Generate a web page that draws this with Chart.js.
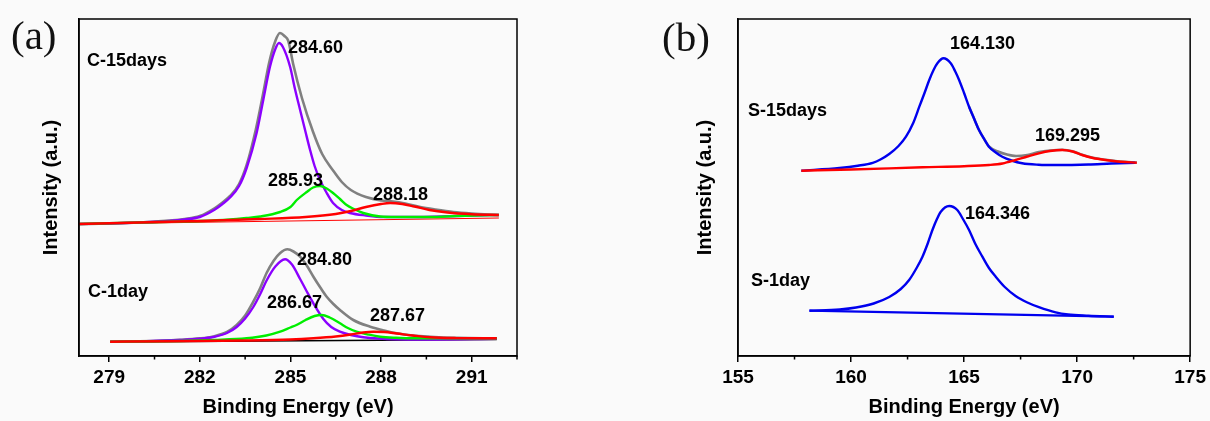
<!DOCTYPE html>
<html>
<head>
<meta charset="utf-8">
<script src="https://cdn.jsdelivr.net/npm/chart.js@4.4.0/dist/chart.umd.min.js"></script>
<style>
  body { margin: 0; background: #fafafa; width: 1210px; height: 421px; overflow: hidden; position: relative; }
  .panel { position: absolute; top: 0; height: 421px; }
  #panelA { left: 0; width: 530px; }
  #panelB { left: 640px; width: 570px; }
  .lbl { position: absolute; font: bold 18px/18px 'Liberation Sans', Arial, sans-serif; white-space: nowrap; color: #000; }
  .tag { position: absolute; font: 41px/41px 'Liberation Serif', 'Times New Roman', serif; color: #111; }
</style>
</head>
<body>
<div class="panel" id="panelA"><canvas id="chartA" width="530" height="421"></canvas></div>
<div class="panel" id="panelB"><canvas id="chartB" width="570" height="421"></canvas></div>
<script>
// ---- data (binding energy eV, intensity a.u.) ----
const xTicksA = [279, 282, 285, 288, 291];
const xTicksB = [155, 160, 165, 170, 175];
const panelTags = ["(a)", "(b)"];
const sampleNames = ["C-15days", "C-1day", "S-15days", "S-1day"];
const peakLabels = ["284.60", "285.93", "288.18", "284.80", "286.67", "287.67", "164.130", "169.295", "164.346"];

// C 1s, 15 days
const c15Background = [[278, 132], [291.9, 138]];
const c15Envelope = [[278, 132], [279, 132.5], [280, 133.5], [281, 135.5], [281.5, 137], [282, 140], [282.5, 148], [282.75, 153.5],
  [283, 160], [283.3, 172], [283.55, 191], [283.85, 226], [284.08, 260], [284.3, 294], [284.5, 315], [284.65, 323], [284.8, 320],
  [284.93, 315], [285.09, 292], [285.38, 258], [285.75, 224], [286.05, 202], [286.4, 186], [286.7, 174], [287.0, 166],
  [287.5, 159], [288.0, 155.5], [288.4, 154.5], [288.8, 152.5], [289.3, 149], [289.8, 146.5], [290.4, 144], [291.0, 142.5], [291.9, 141]];
const c15Peak1 = [[278, 132], [279, 132.5], [280, 133.5], [281, 135], [281.5, 136.5], [282, 139], [282.5, 146.5], [282.75, 152],
  [283, 158.5], [283.3, 170], [283.55, 188], [283.88, 223], [284.1, 256], [284.32, 289], [284.5, 307], [284.62, 313], [284.75, 309],
  [284.99, 289], [285.15, 267], [285.32, 246], [285.5, 224], [285.65, 206], [285.8, 190], [285.98, 176], [286.2, 163],
  [286.41, 153], [286.7, 146], [286.97, 143], [287.5, 140.5], [288.07, 139], [289, 139], [290, 139.5], [291, 140.5], [291.9, 141]];
const c15Peak2 = [[278, 132], [280, 133.5], [282, 135], [283, 136.5], [283.55, 138], [284, 139.5], [284.66, 144], [285, 149],
  [285.21, 156], [285.54, 164], [285.75, 168.5], [285.98, 170], [286.2, 167.5], [286.41, 163], [286.64, 157], [286.86, 151],
  [287.1, 147], [287.41, 143], [287.97, 139.5], [288.5, 139], [289.62, 139], [290.5, 140], [291.9, 141]];
const c15Peak3 = [[278, 132], [280, 133.5], [282, 135], [284, 137], [285.5, 139], [286.5, 142], [287, 145], [287.5, 149],
  [288, 152], [288.3, 153], [288.7, 152], [289.1, 149.5], [289.6, 146], [290.2, 143.5], [291, 141.8], [291.9, 141]];

// C 1s, 1 day
const c1Background = [[279.03, 14], [291.83, 16.5]];
const c1Envelope = [[279.03, 14.3], [280, 14.7], [281.34, 16.2], [282, 17.6], [282.45, 19.6], [282.9, 24], [283.22, 31],
  [283.5, 40.5], [283.77, 54.3], [284.0, 68], [284.21, 83], [284.45, 95.5], [284.66, 103], [284.9, 106.7], [285.1, 104.5],
  [285.32, 99.3], [285.55, 90], [285.76, 79.3], [286.0, 68], [286.2, 59.3], [286.42, 52], [286.64, 46], [287.08, 36],
  [287.64, 29.3], [288.1, 25.5], [288.52, 22.7], [289.05, 20.5], [289.62, 19.3], [290.5, 18.2], [291.83, 17.7]];
const c1Peak1 = [[279.03, 14.3], [280, 14.6], [281.34, 16], [282, 17.2], [282.45, 19], [282.9, 23], [283.22, 29], [283.5, 37.5],
  [283.77, 49], [284.0, 62], [284.21, 75.5], [284.5, 89.5], [284.82, 96.7], [285.05, 91.5], [285.32, 77], [285.55, 64],
  [285.76, 52.7], [286.09, 37], [286.35, 29], [286.64, 24.3], [287, 21], [287.41, 18.7], [288.52, 16.7], [289.5, 16.5], [291.83, 17.2]];
const c1Peak2 = [[279.03, 14.3], [281.34, 15], [282.5, 16], [283.55, 17.7], [284.2, 20.5], [284.66, 24.3], [285.0, 28.5],
  [285.2, 31], [285.5, 36], [285.8, 40], [286.03, 41], [286.3, 38.5], [286.64, 32.7], [286.9, 28], [287.19, 24.3],
  [287.6, 21.3], [287.97, 19.3], [288.5, 18.2], [289.07, 17.7], [291.83, 17.7]];
const c1Peak3 = [[279.03, 14.3], [281, 14.8], [283.55, 15.5], [285, 16.5], [285.76, 17.7], [286.5, 19.5], [287, 21.5],
  [287.4, 23.5], [287.75, 24.3], [288.1, 24], [288.52, 22.5], [289.05, 20.5], [289.62, 18.7], [290.5, 17.9], [291.83, 17.7]];

// S 2p, 15 days
const s15Envelope = [[165.22, 249.3], [165.45, 237], [165.66, 226], [165.9, 216.5], [166.1, 209.5], [166.5, 204.5],
  [166.9, 201.5], [167.3, 200], [167.8, 201], [168.31, 204], [168.8, 205.5], [169.34, 206.3], [169.8, 204.7],
  [170.22, 201.2], [170.7, 198.2], [171.25, 196.2], [171.9, 194.4], [172.64, 193.5]];
const s15Peak1 = [[157.8, 185.3], [159.49, 188], [160.3, 190.3], [160.96, 193.2], [161.3, 196.5], [161.69, 202], [162.1, 210],
  [162.43, 219.3], [162.75, 233], [163.02, 249.3], [163.25, 263], [163.46, 276], [163.65, 286], [163.82, 292.7],
  [164.09, 297.7], [164.41, 292.7], [164.6, 285], [164.78, 276], [165.0, 263], [165.22, 249.3], [165.45, 237],
  [165.66, 226], [165.9, 216.5], [166.1, 209.3], [166.4, 203.5], [166.69, 199.3], [167.1, 195.5], [167.57, 192.7],
  [168.3, 191.3], [169.04, 191], [170.5, 191.5], [171.5, 192.5], [172.57, 193.3]];
const s15Peak2 = [[157.8, 185.3], [160, 186.5], [163.16, 188.7], [165, 189.8], [166.1, 191], [166.7, 192.5], [167.28, 196],
  [167.8, 199.5], [168.31, 202.7], [168.8, 205], [169.34, 206], [169.8, 204.5], [170.22, 201], [170.7, 198],
  [171.25, 196], [171.9, 194.3], [172.64, 193.3]];

// S 2p, 1 day
const s1Background = [[158.16, 45.3], [171.62, 39.3]];
const s1Peak1 = [[158.16, 45.3], [159.5, 46.5], [160.22, 48.5], [161, 52.5], [161.69, 59], [162.2, 67], [162.57, 76],
  [162.9, 88], [163.16, 99.3], [163.4, 113], [163.6, 126], [163.8, 137], [163.97, 144.3], [164.34, 150], [164.7, 146],
  [164.95, 137], [165.22, 126], [165.5, 112], [165.81, 99.3], [166.1, 88], [166.4, 79.3], [166.8, 69], [167.28, 60],
  [167.8, 53.5], [168.31, 48.8], [169.05, 43.6], [169.6, 41.5], [170.5, 40.3], [171.62, 39.3]];

// ---- styling / layout ----
const GRAY = '#808080', PURPLE = '#8b00ff', GREEN = '#00ee00', RED = '#ff0000', BLUE = '#0000ee';
Chart.defaults.font.family = "'Liberation Sans', Arial, sans-serif";
Chart.defaults.color = '#000';

const line = (pts, color, width, order) => ({
  data: pts.map(([x, y]) => ({ x, y })),
  borderColor: color,
  borderWidth: width,
  order,
  fill: false,
  pointRadius: 0,
  cubicInterpolationMode: 'monotone'
});

const boxPlugin = {
  id: 'box',
  afterDraw(chart) {
    const { ctx, chartArea: a } = chart;
    const x = chart.scales.x;
    ctx.save();
    ctx.strokeStyle = '#000';
    ctx.lineWidth = 1.5;
    ctx.strokeRect(a.left, a.top, a.right - a.left, a.bottom - a.top);
    const vals = x.ticks.map(t => t.value);
    ctx.beginPath();
    for (let i = 0; i < vals.length - 1; i++) {
      const px = x.getPixelForValue((vals[i] + vals[i + 1]) / 2);
      ctx.moveTo(px, a.bottom);
      ctx.lineTo(px, a.bottom + 3.5);
    }
    const step = vals[1] - vals[0];
    const last = x.getPixelForValue(vals[vals.length - 1] + step / 2);
    if (last <= a.right + 1) { ctx.moveTo(last, a.bottom); ctx.lineTo(last, a.bottom + 3.5); }
    ctx.stroke();
    ctx.restore();
  }
};

function makeChart(id, cfg) {
  return new Chart(document.getElementById(id), {
    type: 'line',
    data: { datasets: cfg.datasets },
    options: {
      responsive: false,
      animation: false,
      events: [],
      layout: { padding: { left: 0, right: cfg.padRight, top: 19, bottom: 0 } },
      plugins: { legend: { display: false }, tooltip: { enabled: false } },
      scales: {
        x: {
          type: 'linear',
          min: cfg.xMin,
          max: cfg.xMax,
          afterBuildTicks: s => { s.ticks = cfg.ticks.map(v => ({ value: v })); },
          afterFit: s => { s.height = 65; },
          grid: { display: true, drawOnChartArea: false, drawTicks: true, tickLength: 6, color: '#000', lineWidth: 1.5 },
          border: { display: true, color: '#000', width: 1.5 },
          ticks: { font: { size: 19, weight: 'bold' }, padding: 4, maxRotation: 0, autoSkip: false },
          title: { display: true, text: 'Binding Energy (eV)', font: { size: 20, weight: 'bold' }, padding: { top: 0, bottom: 2 } }
        },
        y: {
          type: 'linear',
          min: 0,
          max: 337,
          afterFit: s => { s.width = cfg.yWidth; },
          grid: { display: false },
          border: { display: true, color: '#000', width: 1.5 },
          ticks: { display: false },
          title: { display: true, text: 'Intensity (a.u.)', font: { size: 20, weight: 'bold' }, padding: { top: cfg.yTitlePad, bottom: 0 } }
        }
      }
    },
    plugins: [boxPlugin]
  });
}

makeChart('chartA', {
  xMin: 278, xMax: 292.5, ticks: xTicksA, padRight: 13, yWidth: 79, yTitlePad: 39,
  datasets: [
    line(c15Background, RED, 1, 6),
    line(c15Envelope, GRAY, 2.6, 5),
    line(c15Peak1, PURPLE, 2.4, 4),
    line(c15Peak2, GREEN, 2.4, 3),
    line(c15Peak3, RED, 2.4, 1),
    line(c1Background, '#000', 1.5, 6),
    line(c1Envelope, GRAY, 2.6, 5),
    line(c1Peak1, PURPLE, 2.4, 4),
    line(c1Peak2, GREEN, 2.4, 3),
    line(c1Peak3, RED, 2.4, 1)
  ]
});

makeChart('chartB', {
  xMin: 155, xMax: 175, ticks: xTicksB, padRight: 18, yWidth: 98, yTitlePad: 53,
  datasets: [
    line(s15Envelope, GRAY, 2.6, 5),
    line(s15Peak1, BLUE, 2.4, 2),
    line(s15Peak2, RED, 2.4, 1),
    line(s1Background, BLUE, 2.2, 3),
    line(s1Peak1, BLUE, 2.4, 2)
  ]
});

// ---- text labels ----
const tagPos = [[11, 15], [662, 17]];
panelTags.forEach((t, i) => {
  const d = document.createElement('div');
  d.className = 'tag';
  d.textContent = t;
  d.style.left = tagPos[i][0] + 'px';
  d.style.top = tagPos[i][1] + 'px';
  document.body.appendChild(d);
});
const namePos = [[87, 51], [88, 282], [748, 101], [751, 271]];
const peakPos = [[288, 38], [268, 171], [373, 185], [297, 250], [267, 293], [370, 306], [950, 34], [1035, 126], [965, 204]];
const addLabel = (text, [x, y]) => {
  const d = document.createElement('div');
  d.className = 'lbl';
  d.textContent = text;
  d.style.left = x + 'px';
  d.style.top = y + 'px';
  document.body.appendChild(d);
};
sampleNames.forEach((t, i) => addLabel(t, namePos[i]));
peakLabels.forEach((t, i) => addLabel(t, peakPos[i]));
</script>
</body>
</html>
